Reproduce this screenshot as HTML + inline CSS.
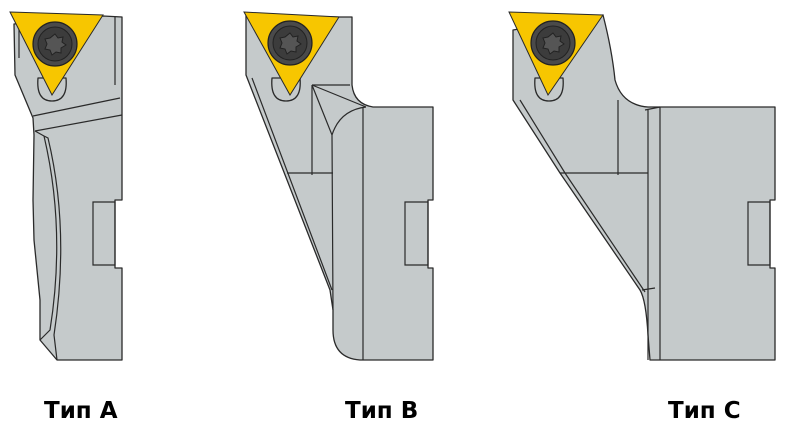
<!DOCTYPE html>
<html><head><meta charset="utf-8"><style>
html,body{margin:0;padding:0;background:#fff;width:800px;height:425px;overflow:hidden}
svg{position:absolute;left:0;top:0}
.b{fill:#c5cacb;stroke:#2a2a2a;stroke-width:1.3;stroke-linejoin:round}
.l{fill:none;stroke:#2a2a2a;stroke-width:1.2}
.ins{fill:#f7c600;stroke:#2a2a2a;stroke-width:1}
.lab{font-family:"DejaVu Sans","Liberation Sans",sans-serif;font-weight:bold;font-size:23px;fill:#000}
</style></head><body>
<svg width="800" height="425" viewBox="0 0 800 425">
<defs>
<g id="scr">
<circle r="22" fill="#4a4a4a" stroke="#222" stroke-width="1.2"/>
<circle r="17" fill="#3c3c3c" stroke="#222" stroke-width="1"/>
<path d="M0,-10 L3,-6 8,-7 7,-2 11,1 6,4 6,9 1,8 -3,11 -5,6 -10,5 -8,0 -10,-5 -5,-6 Z" fill="#555" stroke="#222" stroke-width="1"/>
</g>
</defs>
<!-- Type A -->
<path class="b" d="M14,24 L103,16 L122,17 L122,200 L115,200 L115,268 L122,268 L122,360 L57,360 L40,340 L40,300 L34,240 L33,200 L34,135 L33,118 L15,75 Z"/>
<path class="l" d="M33,116 L120,98 M35,131 L122,115 M35,131 L44,136 Q66,230 50,330 L40,340 M44,136 L48,138 Q70,230 54,335 L57,360 M93,202 L115,202 L115,265 L93,265 Z M19,28 L19,58 M115,17 L115,85"/>
<path class="b" d="M38,78 Q36,101 52,101 Q68,101 66,78 Z"/>
<polygon class="ins" points="10,12 103,15 52,95"/>
<use href="#scr" x="55" y="44"/>
<!-- Type B -->
<path class="b" d="M246,15 L339,17 L352,17 L352,85 Q354,104 373,107 L433,107 L433,200 L428,200 L428,268 L433,268 L433,360 L360,360 Q333,358 333,330 L333,310 L330,290 L246,75 Z"/>
<path class="l" d="M252,78 L332,290 M312,85 L312,175 M287,173 L333,173 M312,85 L350,85 M312,85 L366,107 M312,85 L332,135 Q340,110 366,107 M332,135 L333,310 M363,107 L363,360 M405,202 L428,202 L428,265 L405,265 Z"/>
<path class="b" d="M272,78 Q270,101 286,101 Q302,101 300,78 Z"/>
<polygon class="ins" points="244,12 339,17 290,95"/>
<use href="#scr" x="290" y="43"/>
<!-- Type C -->
<path class="b" d="M513,30 L603,15 Q612,50 615,80 Q622,105 648,107 L775,107 L775,200 L770,200 L770,268 L775,268 L775,360 L650,360 L648,335 Q646,300 640,290 L560,173 L513,100 Z"/>
<path class="l" d="M520,100 L565,173 L645,292 M618,100 L618,175 M560,173 L648,173 M645,110 L660,107 M648,110 L648,360 M660,107 L660,360 M642,290 L655,288 M748,202 L770,202 L770,265 L748,265 Z"/>
<path class="b" d="M535,78 Q533,101 549,101 Q565,101 563,78 Z"/>
<polygon class="ins" points="509,12 603,15 548,95"/>
<use href="#scr" x="553" y="43"/>
<text class="lab" x="44" y="418">Тип А</text>
<text class="lab" x="345" y="418">Тип В</text>
<text class="lab" x="668" y="418">Тип С</text>
</svg>
</body></html>
